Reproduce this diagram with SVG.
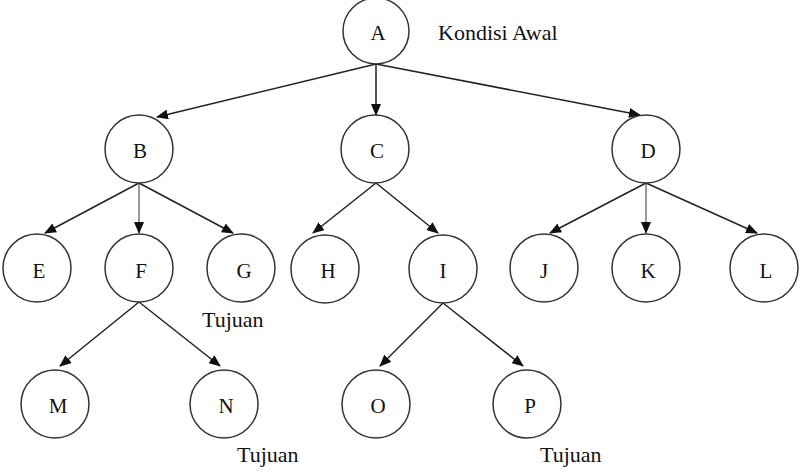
<svg xmlns="http://www.w3.org/2000/svg" width="800" height="472" viewBox="0 0 800 472">
<style>
.n circle{fill:#fff;stroke:#333;stroke-width:1.5}
.n text{font-size:21px;text-anchor:middle;fill:#111}
.lbl{font-size:22px;fill:#111}
#edges line{stroke:#222;stroke-width:1.5;marker-end:url(#ah)}
#edges line.g{stroke:#777}
</style>
<defs>
<marker id="ah" markerUnits="userSpaceOnUse" markerWidth="12" markerHeight="10" refX="11" refY="5" orient="auto">
<path d="M0,0 L12,5 L0,10 z" fill="#111"/>
</marker>
</defs>
<rect width="800" height="472" fill="#fff"/>
<g id="edges">
<line x1="376" y1="64" x2="157" y2="117"/>
<line x1="376" y1="64" x2="376" y2="115"/>
<line x1="376" y1="64" x2="640" y2="115"/>
<line x1="139" y1="183" x2="45" y2="233"/>
<line class="g" x1="139" y1="183" x2="139" y2="233"/>
<line x1="139" y1="183" x2="233" y2="233"/>
<line x1="376" y1="183" x2="313" y2="233"/>
<line x1="376" y1="183" x2="438" y2="233"/>
<line x1="646" y1="183" x2="550" y2="233"/>
<line class="g" x1="646" y1="183" x2="646" y2="233"/>
<line x1="646" y1="183" x2="757" y2="233"/>
<line x1="139" y1="302" x2="60" y2="366"/>
<line x1="139" y1="302" x2="220" y2="366"/>
<line x1="443" y1="303" x2="380" y2="366"/>
<line x1="443" y1="303" x2="523" y2="366"/>
</g>
<g font-family="'Liberation Serif', 'DejaVu Serif', serif">
<g id="nA" class="n"><circle cx="376" cy="31" r="33"/><text x="378" y="40">A</text></g>
<g id="nB" class="n"><circle cx="139" cy="149" r="34"/><text x="140" y="158">B</text></g>
<g id="nC" class="n"><circle cx="375" cy="149" r="34"/><text x="377" y="158">C</text></g>
<g id="nD" class="n"><circle cx="646" cy="149" r="34"/><text x="648" y="158">D</text></g>
<g id="nE" class="n"><circle cx="37" cy="268" r="34"/><text x="39" y="278">E</text></g>
<g id="nF" class="n"><circle cx="139" cy="268" r="34"/><text x="141" y="278">F</text></g>
<g id="nG" class="n"><circle cx="241" cy="268" r="34"/><text x="244" y="278">G</text></g>
<g id="nH" class="n"><circle cx="325" cy="269" r="34"/><text x="328" y="278">H</text></g>
<g id="nI" class="n"><circle cx="443" cy="269" r="34"/><text x="443" y="278">I</text></g>
<g id="nJ" class="n"><circle cx="544" cy="268" r="34"/><text x="544" y="278">J</text></g>
<g id="nK" class="n"><circle cx="646" cy="268" r="34"/><text x="648" y="278">K</text></g>
<g id="nL" class="n"><circle cx="764" cy="268" r="34"/><text x="766" y="278">L</text></g>
<g id="nM" class="n"><circle cx="55" cy="404" r="34"/><text x="58" y="413">M</text></g>
<g id="nN" class="n"><circle cx="224" cy="404" r="34"/><text x="226" y="413">N</text></g>
<g id="nO" class="n"><circle cx="376" cy="404" r="34"/><text x="378" y="413">O</text></g>
<g id="nP" class="n"><circle cx="527" cy="404" r="34"/><text x="530" y="413">P</text></g>
<text class="lbl" x="438" y="40">Kondisi Awal</text>
<text class="lbl" x="202" y="327">Tujuan</text>
<text class="lbl" x="237" y="462">Tujuan</text>
<text class="lbl" x="540" y="462">Tujuan</text>
</g>
</svg>
